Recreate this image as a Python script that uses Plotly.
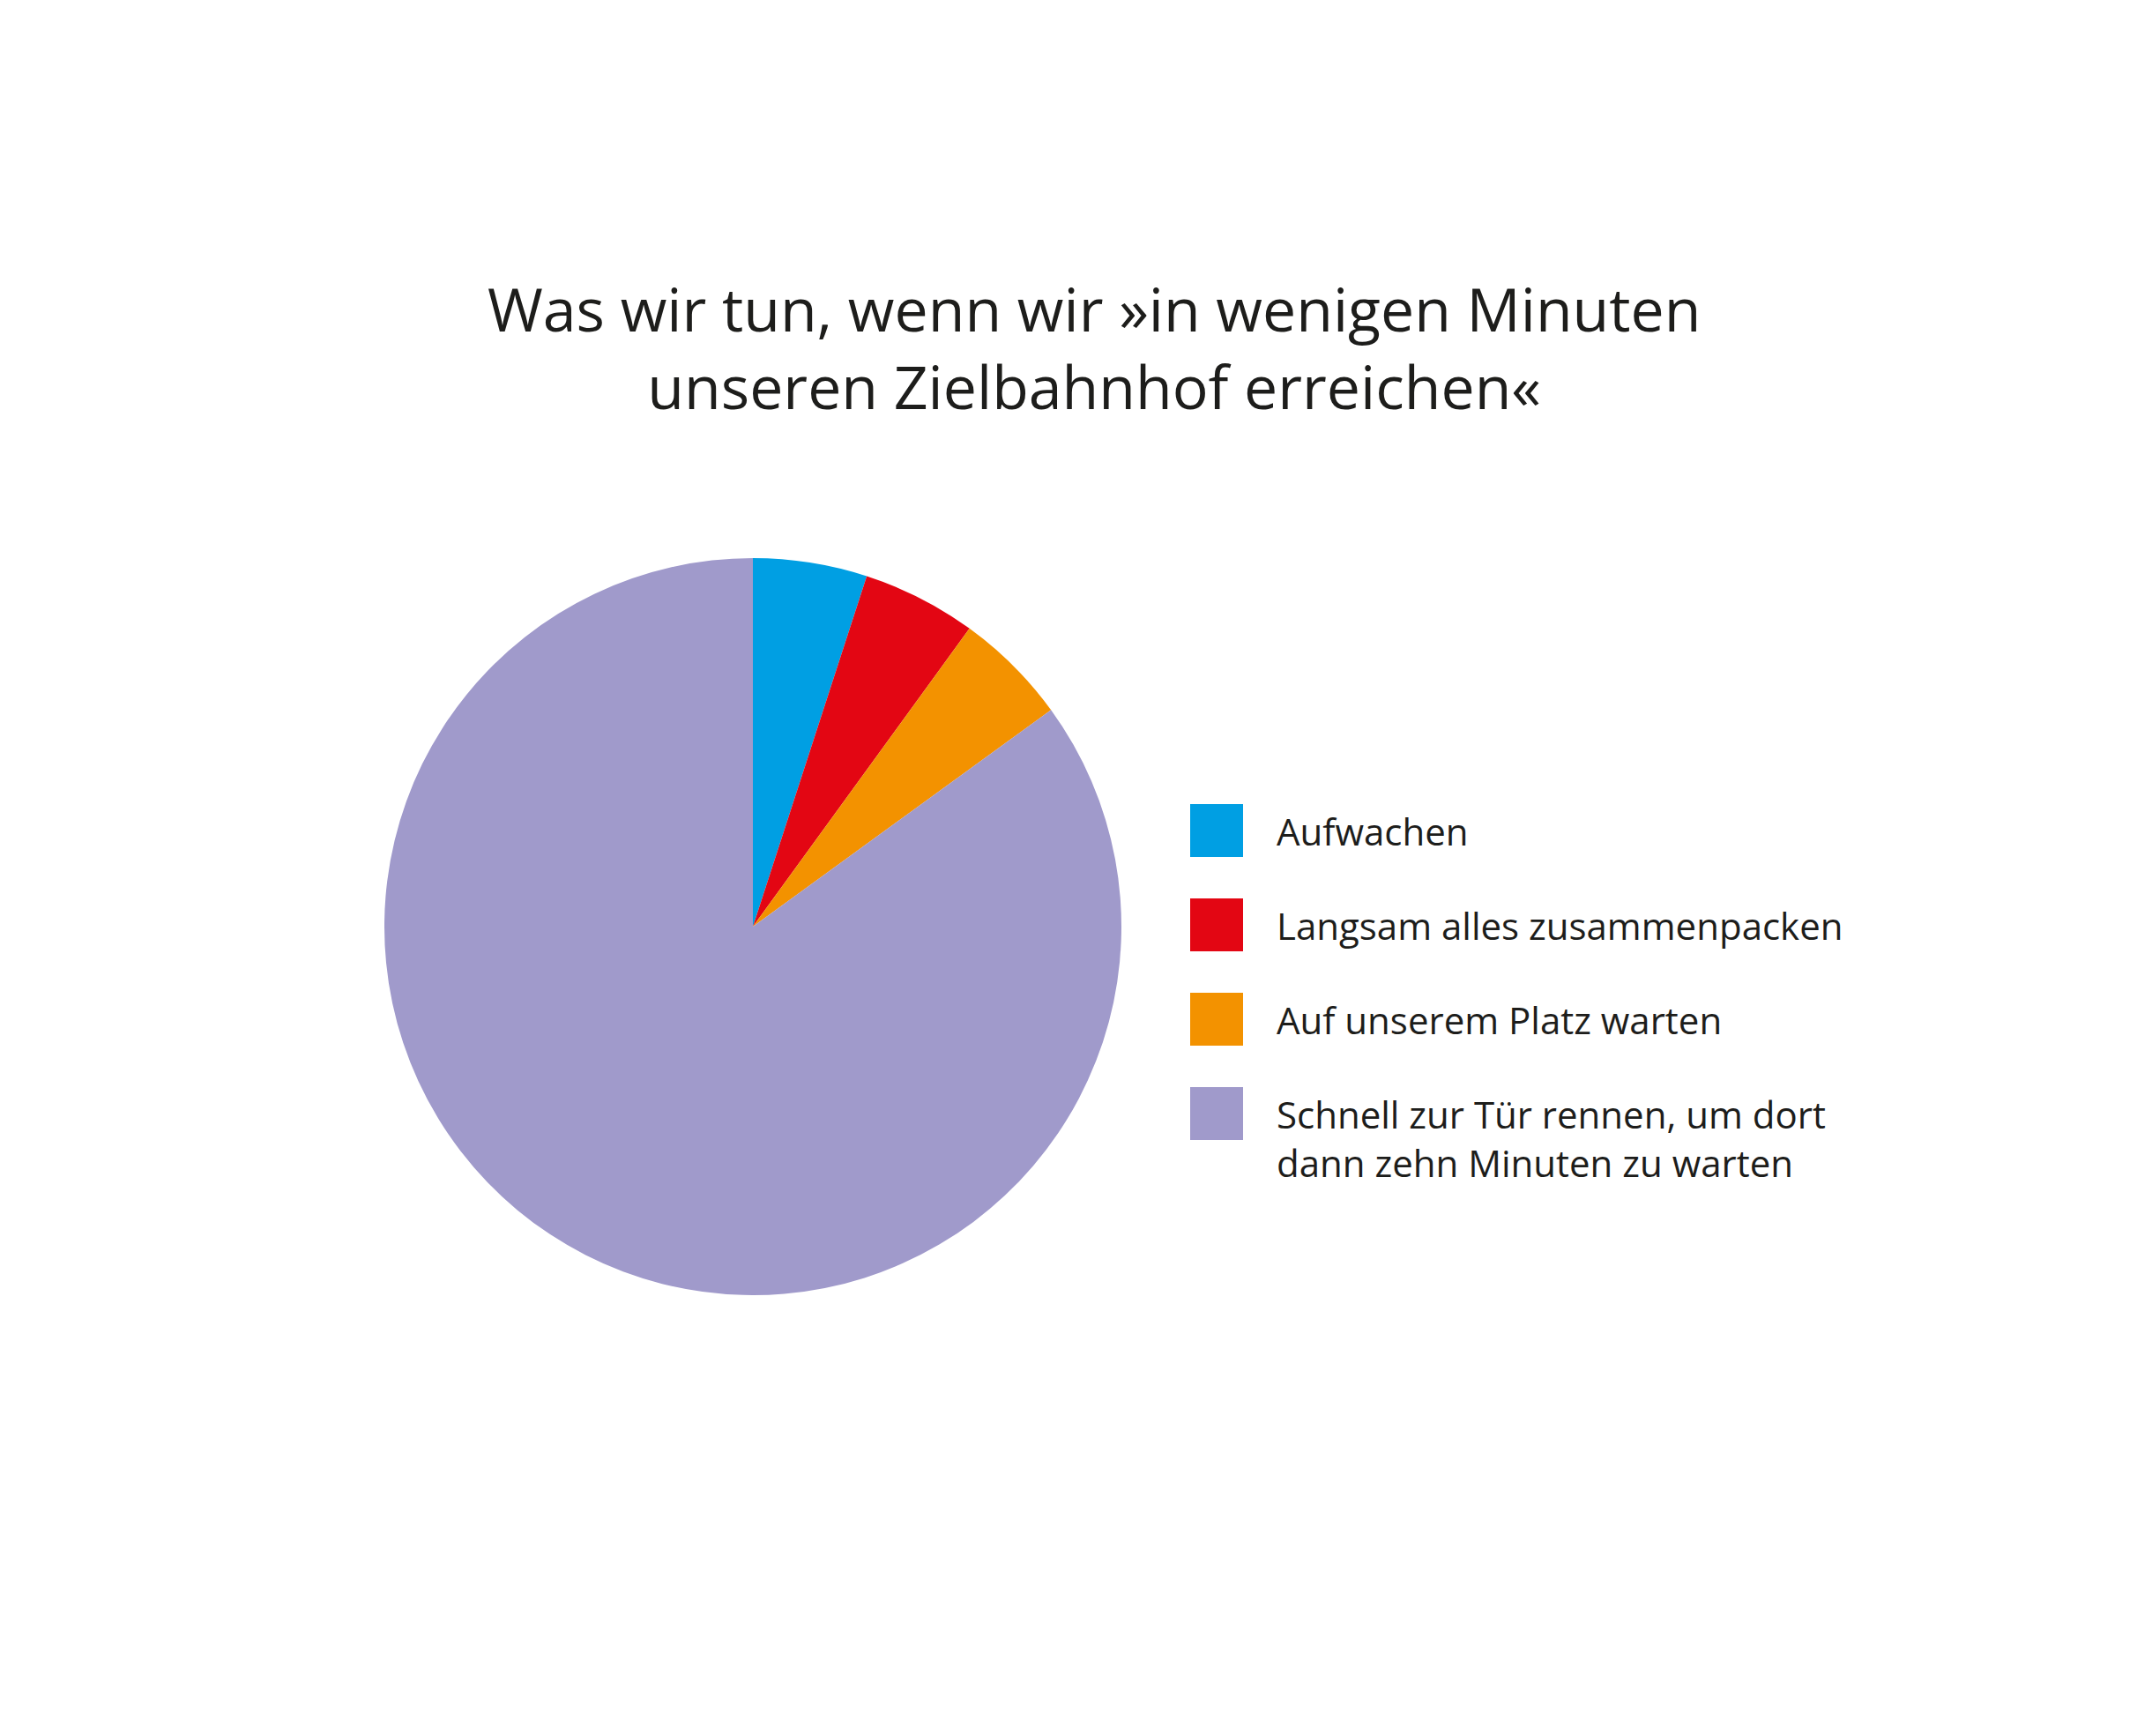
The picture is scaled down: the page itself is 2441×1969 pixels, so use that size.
import plotly.graph_objects as go

W, H = 2441, 1969

labels = ['Aufwachen', 'Langsam alles zusammenpacken', 'Auf unserem Platz warten',
          'Schnell zur Tür rennen, um dort<br>dann zehn Minuten zu warten']
values = [5, 5, 5, 85]
colors = ['#009FE3', '#E30613', '#F39200', '#A09ACB']

fig = go.Figure(go.Pie(
    labels=labels, values=values, sort=False, direction='clockwise', rotation=0,
    marker=dict(colors=colors, line=dict(width=0)), textinfo='none',
    hoverinfo='label+percent', showlegend=False,
    domain=dict(x=[428 / W, 1264 / W], y=[1 - 1461 / H, 1 - 625 / H]),
))

# legend drawn by hand: square + label
row_y = [934, 1041, 1148, 1255]
sq = 60
for lab, col, yc in zip(labels, colors, row_y):
    fig.add_shape(type='rect', xref='paper', yref='paper',
                  x0=1342 / W, x1=(1342 + sq) / W,
                  y0=1 - (yc + sq / 2) / H, y1=1 - (yc - sq / 2) / H,
                  fillcolor=col, line=dict(width=0))
    multi = '<br>' in lab
    fig.add_annotation(text=lab, xref='paper', yref='paper',
                       x=1438 / W, y=1 - (yc - (30 if multi else 0)) / H,
                       xanchor='left', yanchor='top' if multi else 'middle',
                       align='left', showarrow=False,
                       font=dict(size=42, color='#1d1d1b'))

fig.add_annotation(
    text='Was wir tun, wenn wir »in wenigen Minuten<br>unseren Zielbahnhof erreichen«',
    xref='paper', yref='paper', x=1233 / W, y=1 - 386 / H,
    xanchor='center', yanchor='middle', showarrow=False,
    font=dict(size=68, color='#1d1d1b'))

fig.update_layout(
    width=W, height=H, margin=dict(l=0, r=0, t=0, b=0),
    paper_bgcolor='white', plot_bgcolor='white',
    font=dict(family='Open Sans, sans-serif'),
)

fig.write_html('out.html')
